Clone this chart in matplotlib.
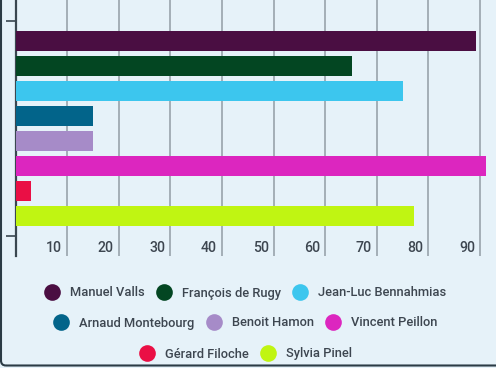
import numpy as np
import matplotlib
matplotlib.use("Agg")
import matplotlib.pyplot as plt
from matplotlib.lines import Line2D
from matplotlib.patches import FancyBboxPatch

names = ["Manuel Valls", "François de Rugy", "Jean-Luc Bennahmias",
         "Arnaud Montebourg", "Benoit Hamon", "Vincent Peillon",
         "Gérard Filoche", "Sylvia Pinel"]
values = [89.2, 65.2, 75.1, 15.0, 15.0, 91.1, 3.0, 77.2]
colors = ["#4a0e42", "#034622", "#3cc6ee", "#02648a",
          "#a68bc8", "#dc26bf", "#ea0f45", "#c0f512"]
xticks = [10, 20, 30, 40, 50, 60, 70, 80, 90]

bg = "#e6f2f9"
txt = "#3d4650"
plt.rcParams['font.family'] = ['Roboto', 'DejaVu Sans']

W, H = 496, 368
fig = plt.figure(figsize=(W / 100, H / 100), dpi=100)
fig.set_facecolor(bg)

ax = fig.add_axes([15.7 / W, 1 - 256 / H, 1 - 15.7 / W, 256 / H])
ax.set_facecolor(bg)

pos = np.arange(len(values))
ax.barh(pos, values, height=0.8, color=colors, zorder=3)

ax.set_xlim(0, 93.1)
ax.set_ylim(8.6, -1.64)

ax.set_xticks(xticks)
ax.set_xticklabels([])
ax.tick_params(axis='x', length=0)
ax.grid(axis='x', color="#98a3ab", linewidth=1.2, zorder=0)

ax.set_yticks([-0.8, 7.8])
ax.set_yticklabels([])
ax.tick_params(axis='y', length=7.2, width=1.2, color="#3a4750")

for s in ["top", "right", "bottom"]:
    ax.spines[s].set_visible(False)
ax.spines["left"].set_color("#3a4750")
ax.spines["left"].set_linewidth(1.6)

for v in xticks:
    ax.annotate(str(v), xy=(v, 0), xycoords=('data', 'axes fraction'),
                xytext=(-5, 8), textcoords='offset pixels',
                ha='right', va='center', fontsize=10.2, color=txt,
                fontweight='medium')

rows = [names[0:3], names[3:6], names[6:8]]
row_y = [293, 323, 354]
for row, yy in zip(rows, row_y):
    handles = [Line2D([], [], marker='o', linestyle='none', markersize=12,
                      markerfacecolor=colors[names.index(n)],
                      markeredgewidth=0) for n in row]
    leg = fig.legend(handles, row, loc='center', ncol=len(row),
                     bbox_to_anchor=(245 / W, 1 - yy / H), frameon=False,
                     prop={'size': 9.3, 'weight': 'medium'},
                     handlelength=1.3, handletextpad=0.75,
                     columnspacing=0.85, borderpad=0, borderaxespad=0)
    for t in leg.get_texts():
        t.set_color(txt)

border = FancyBboxPatch((1, 2.5), 700, 500,
                        boxstyle="round,pad=0,rounding_size=5",
                        transform=None, facecolor='none',
                        edgecolor="#2b3b45", linewidth=1.5)
fig.patches.append(border)

fig.savefig("out.png", dpi=100, facecolor=bg)
